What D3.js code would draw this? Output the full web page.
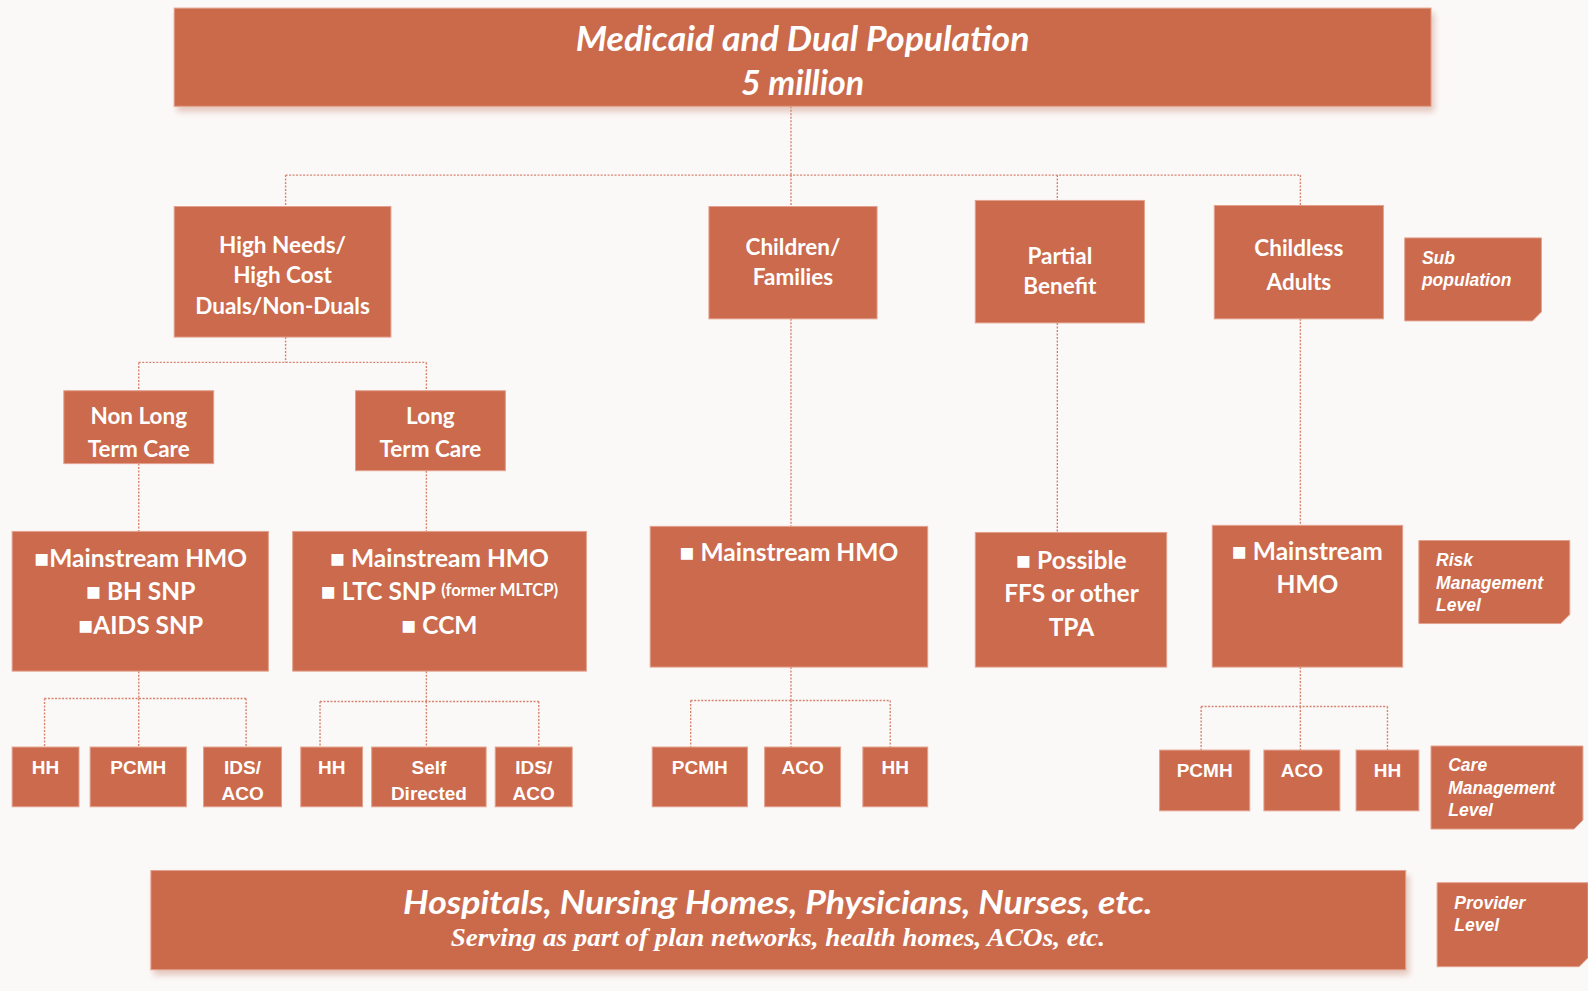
<!DOCTYPE html>
<html>
<head>
<meta charset="utf-8">
<script src="https://cdn.jsdelivr.net/npm/d3@7"></script>
<style>
  body { margin: 0; background: #fbf9f8; }
  svg { display: block; }
</style>
</head>
<body>
<svg width="1588" height="991"></svg>
<script>
// text content
var titleLines = ["Medicaid and Dual Population", "5 million"];
var subpopLabels = [["High Needs/", "High Cost", "Duals/Non-Duals"], ["Children/", "Families"], ["Partial", "Benefit"], ["Childless", "Adults"]];
var careTypeLabels = [["Non Long", "Term Care"], ["Long", "Term Care"]];
var planLabels = [
  [["■Mainstream HMO"], ["■ BH SNP"], ["■AIDS SNP"]],
  [["■ Mainstream HMO"], ["■ LTC SNP ", "(former MLTCP)"], ["■ CCM"]],
  [["■ Mainstream HMO"]],
  [["■ Possible"], ["FFS or other"], ["TPA"]],
  [["■ Mainstream"], ["HMO"]]
];
var careLabels = [
  [["HH"], ["PCMH"], ["IDS/", "ACO"]],
  [["HH"], ["Self", "Directed"], ["IDS/", "ACO"]],
  [["PCMH"], ["ACO"], ["HH"]],
  [["PCMH"], ["ACO"], ["HH"]]
];
var levelLabels = [["Sub", "population"], ["Risk", "Management", "Level"], ["Care", "Management", "Level"], ["Provider", "Level"]];
var providerLines = ["Hospitals, Nursing Homes, Physicians, Nurses, etc.", "Serving as part of plan networks, health homes, ACOs, etc."];

// layout in reference units
var topBox = [172, 8, 1413, 105], topTextY = [37, 80], titleWidth = 448;
var subpopBoxes = [[172, 204, 386, 333], [700, 204, 866, 315], [963, 198, 1130, 319], [1199, 203, 1366, 315]];
var subpopTextY = [[241, 271, 301], [243, 273], [252, 282], [244, 278]];
var careTypeBoxes = [[63, 386, 211, 458], [351, 386, 499, 465]];
var planBoxes = [[12, 525, 265, 663], [289, 525, 579, 663], [642, 520, 916, 659], [963, 526, 1152, 659], [1197, 519, 1385, 659]];
var planTextY = [[550, 583, 616], [550, 583, 616], [544], [552, 585, 618], [543, 576]];
var planTextX = [139, 434, 779, 1058, 1291];
var careBoxX = [[[12, 78], [89, 184], [201, 278]], [[297, 358], [367, 480], [489, 565]], [[644, 738], [755, 830], [852, 916]], [[1145, 1234], [1248, 1323], [1339, 1401]]];
var careBoxY = [[738, 797], [738, 797], [738, 797], [741, 801]];
var levelBoxes = [[1387, 235, 1522, 317], [1401, 534, 1550, 616], [1413, 737, 1563, 819], [1419, 872, 1568, 955]];
var levelTextY = [[255, 277], [553, 576, 598], [756, 778, 800], [892, 914]];
var bottomBox = [149, 860, 1388, 958], bottomTextY = [890, 926], bottomTextX = 768, bottomWidths = [740, 646];
// connectors: parent x, parent bottom, bus y, child xs, child tops
var links = [
  [781, 105, 173, [282, 781, 1044, 1284], [204, 204, 198, 203]],
  [282, 333, 358, [137, 421], [386, 386]],
  [137, 458, null, [137], [525]],
  [421, 465, null, [421], [525]],
  [781, 315, null, [781], [520]],
  [1044, 319, null, [1044], [526]],
  [1284, 315, null, [1284], [519]],
  [137, 663, 690, [44, 137, 243], [738, 738, 738]],
  [421, 663, 693, [316, 421, 532], [738, 738, 738]],
  [781, 659, 692, [682, 781, 879], [738, 738, 738]],
  [1284, 659, 698, [1186, 1284, 1370], [741, 741, 741]]
];

var fill = "#cb6a4c", edge = "#e3a18d", lineColor = "#d7846f";
var sans = "Lato, 'Open Sans', sans-serif";
var arial = "'Liberation Sans', Arial, sans-serif";

var svg = d3.select("svg");
var x = d3.scaleLinear().domain([0, 1568]).range([0, 1588]);
var y = d3.scaleLinear().domain([0, 979]).range([0, 991]);

var defs = svg.append("defs");
var f = defs.append("filter").attr("id", "shadow").attr("x", "-5%").attr("y", "-20%").attr("width", "110%").attr("height", "150%");
f.append("feDropShadow").attr("dx", 3).attr("dy", 5).attr("stdDeviation", 3).attr("flood-color", "#c98a77").attr("flood-opacity", 0.45);

svg.append("rect").attr("width", 1588).attr("height", 991).attr("fill", "#fbf9f8");

// connectors
var gl = svg.append("g").attr("stroke", lineColor).attr("stroke-width", 1.4)
  .attr("stroke-dasharray", "2,1.5").attr("fill", "none");
links.forEach(function(l) {
  var px = l[0], py = l[1], bus = l[2], cx = l[3], cy = l[4];
  if (bus === null) {
    gl.append("line").attr("x1", x(px)).attr("x2", x(px)).attr("y1", y(py)).attr("y2", y(cy[0]));
    return;
  }
  gl.append("line").attr("x1", x(px)).attr("x2", x(px)).attr("y1", y(py)).attr("y2", y(bus));
  gl.append("line").attr("x1", x(d3.min(cx))).attr("x2", x(d3.max(cx))).attr("y1", y(bus)).attr("y2", y(bus));
  cx.forEach(function(c, i) {
    gl.append("line").attr("x1", x(c)).attr("x2", x(c)).attr("y1", y(bus)).attr("y2", y(cy[i]));
  });
});

function box(b, shadow) {
  var r = svg.append("rect")
    .attr("x", x(b[0])).attr("y", y(b[1]))
    .attr("width", x(b[2]) - x(b[0])).attr("height", y(b[3]) - y(b[1]))
    .attr("fill", fill).attr("stroke", edge).attr("stroke-width", 1);
  if (shadow) r.attr("filter", "url(#shadow)");
}

function label(tx, ty, parts, size, font, opts) {
  opts = opts || {};
  var t = svg.append("text")
    .attr("x", x(tx)).attr("y", y(ty))
    .attr("text-anchor", opts.anchor || "middle")
    .attr("dominant-baseline", "central")
    .attr("fill", "#fff")
    .attr("font-family", font)
    .attr("font-weight", opts.weight || "bold")
    .attr("font-style", opts.style || "normal")
    .attr("font-size", size);
  if (opts.width) t.attr("textLength", x(opts.width)).attr("lengthAdjust", "spacingAndGlyphs");
  parts.forEach(function(p, i) {
    var s = t.append("tspan").text(p);
    if (i > 0) s.attr("font-size", size * 0.68);
  });
}

// top
box(topBox, true);
label((topBox[0] + topBox[2]) / 2, topTextY[0], [titleLines[0]], 34, sans, { style: "italic", width: titleWidth });
label((topBox[0] + topBox[2]) / 2, topTextY[1], [titleLines[1]], 34, sans, { style: "italic" });

// sub populations
subpopBoxes.forEach(function(b, i) {
  box(b);
  subpopLabels[i].forEach(function(line, j) {
    label((b[0] + b[2]) / 2, subpopTextY[i][j], [line], 22.5, sans);
  });
});

careTypeBoxes.forEach(function(b, i) {
  box(b);
  careTypeLabels[i].forEach(function(line, j) {
    label((b[0] + b[2]) / 2, [410, 443][j], [line], 22.5, sans);
  });
});

planBoxes.forEach(function(b, i) {
  box(b);
  planLabels[i].forEach(function(line, j) {
    label(planTextX[i], planTextY[i][j], line, 24.5, sans);
  });
});

careBoxX.forEach(function(group, g) {
  group.forEach(function(bx, i) {
    var yy = careBoxY[g];
    box([bx[0], yy[0], bx[1], yy[1]]);
    careLabels[g][i].forEach(function(line, j) {
      label((bx[0] + bx[1]) / 2, yy[0] + 20 + j * 25, [line], 19, arial);
    });
  });
});

// level labels with clipped corner
levelBoxes.forEach(function(b, i) {
  var c = 9;
  var p = d3.path();
  p.moveTo(x(b[0]), y(b[1]));
  p.lineTo(x(b[2]), y(b[1]));
  p.lineTo(x(b[2]), y(b[3]) - c);
  p.lineTo(x(b[2]) - c, y(b[3]));
  p.lineTo(x(b[0]), y(b[3]));
  p.closePath();
  svg.append("path").attr("d", p.toString()).attr("fill", fill).attr("stroke", edge).attr("stroke-width", 1);
  levelLabels[i].forEach(function(line, j) {
    label(b[0] + 17, levelTextY[i][j], [line], 17.5, arial, { anchor: "start", style: "italic" });
  });
});

// providers
box(bottomBox, true);
label(bottomTextX, bottomTextY[0], [providerLines[0]], 33, sans, { style: "italic", width: bottomWidths[0] });
label(bottomTextX, bottomTextY[1], [providerLines[1]], 25, "'Liberation Serif', 'DejaVu Serif', serif", { style: "italic", weight: "bold", width: bottomWidths[1] });
</script>
</body>
</html>
